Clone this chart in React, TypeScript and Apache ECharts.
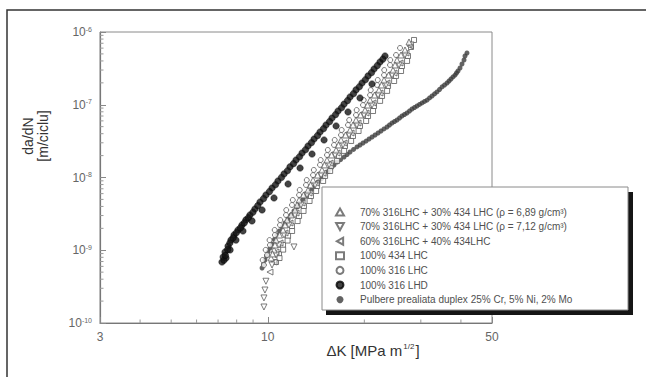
import React, { useEffect, useRef } from "react";
import * as echarts from "echarts";

const FONT = "Liberation Sans, Arial, sans-serif";

const seriesNames = [
  "70% 316LHC + 30% 434 LHC (ρ = 6,89 g/cm³)",
  "70% 316LHC + 30% 434 LHC (ρ = 7,12 g/cm³)",
  "60% 316LHC + 40% 434LHC",
  "100% 434 LHC",
  "100% 316 LHC",
  "100% 316 LHD",
  "Pulbere prealiata duplex 25% Cr, 5% Ni, 2% Mo",
];

// [ΔK (MPa m^1/2), da/dN (m/ciclu)]
const dataA: [number, number][] = [
  [10.24, 7.83e-10], [10.46, 1.01e-9], [10.61, 1.38e-9], [11.16, 1.9e-9], [11.49, 2.61e-9],
  [12.16, 3.58e-9], [12.52, 4.91e-9], [13.35, 6.73e-9], [13.84, 9.24e-9], [14.76, 1.27e-8],
  [15.3, 1.74e-8], [16.33, 2.39e-8], [16.92, 3.28e-8], [18.05, 4.5e-8], [18.84, 6.17e-8],
  [20.1, 8.47e-8], [20.84, 1.16e-7], [22.22, 1.6e-7], [23.04, 2.19e-7], [24.57, 3.0e-7],
  [25.29, 4.12e-7], [26.78, 5.66e-7], [27.56, 7.29e-7],
  [10.35, 8.9e-10], [10.53, 1.18e-9], [10.88, 1.62e-9], [11.32, 2.23e-9], [11.82, 3.06e-9],
  [12.34, 4.19e-9], [12.93, 5.75e-9], [13.6, 7.89e-9], [14.3, 1.08e-8], [15.03, 1.49e-8],
  [15.81, 2.04e-8], [16.62, 2.8e-8], [17.47, 3.84e-8], [18.44, 5.27e-8], [19.46, 7.23e-8],
  [20.47, 9.91e-8], [21.52, 1.36e-7], [22.63, 1.87e-7], [23.8, 2.56e-7], [24.93, 3.52e-7],
  [26.02, 4.83e-7],
];
const dataB: [number, number][] = [
  [9.73, 1.66e-10], [9.73, 2.21e-10], [9.8, 2.84e-10], [9.87, 3.75e-10], [12.07, 1.11e-9],
  [10.31, 6.27e-10], [10.61, 8.6e-10], [10.84, 1.18e-9], [11.24, 1.62e-9], [11.65, 2.22e-9],
  [12.16, 3.05e-9], [12.7, 4.19e-9], [13.25, 5.75e-9], [14.04, 7.89e-9], [14.66, 1.08e-8],
  [15.52, 1.49e-8], [16.21, 2.04e-8], [17.16, 2.8e-8], [17.92, 3.84e-8], [18.97, 5.27e-8],
  [19.95, 7.23e-8], [21.13, 9.91e-8], [22.07, 1.36e-7], [23.37, 1.87e-7], [24.4, 2.56e-7],
  [25.66, 3.52e-7], [26.78, 4.83e-7], [27.96, 6.63e-7],
];
const dataC: [number, number][] = [
  [10.16, 5.02e-10], [10.46, 6.89e-10], [10.61, 9.46e-10], [10.92, 1.26e-9], [11.32, 1.73e-9],
  [11.73, 2.37e-9], [12.25, 3.25e-9], [12.79, 4.46e-9], [13.45, 6.12e-9], [14.14, 8.41e-9],
  [14.87, 1.15e-8], [15.64, 1.58e-8], [16.44, 2.17e-8], [17.29, 2.98e-8], [18.18, 4.09e-8],
  [19.11, 5.61e-8], [20.24, 7.7e-8], [21.29, 1.06e-7], [22.38, 1.45e-7], [23.53, 1.99e-7],
  [24.75, 2.73e-7], [25.84, 3.75e-7], [26.97, 5.14e-7], [27.76, 6.42e-7],
];
const dataD: [number, number][] = [
  [10.61, 6.89e-10], [10.84, 8.88e-10], [11.16, 1.18e-9], [11.57, 1.57e-9], [11.9, 2.15e-9],
  [12.52, 2.96e-9], [12.97, 4.06e-9], [13.64, 5.57e-9], [14.25, 7.64e-9], [15.09, 1.05e-8],
  [15.75, 1.44e-8], [16.68, 1.98e-8], [17.41, 2.71e-8], [18.44, 3.72e-8], [19.39, 5.11e-8],
  [20.54, 7.0e-8], [21.44, 9.61e-8], [22.71, 1.32e-7], [23.71, 1.81e-7], [25.11, 2.49e-7],
  [26.21, 3.41e-7], [27.36, 4.68e-7], [27.96, 6.22e-7], [28.57, 7.77e-7],
  [10.88, 7.82e-10], [11.17, 1.02e-9], [11.53, 1.36e-9], [11.91, 1.84e-9], [12.39, 2.52e-9],
  [12.93, 3.47e-9], [13.5, 4.76e-9], [14.15, 6.52e-9], [14.88, 8.96e-9], [15.65, 1.23e-8],
  [16.45, 1.69e-8], [17.3, 2.32e-8], [18.19, 3.18e-8], [19.19, 4.36e-8], [20.26, 5.98e-8],
  [21.29, 8.2e-8], [22.4, 1.13e-7], [23.55, 1.55e-7], [24.77, 2.12e-7], [26.03, 2.91e-7],
  [27.18, 4.0e-7],
];
const dataE: [number, number][] = [
  [9.73, 6.27e-10], [9.95, 8.6e-10], [10.16, 1.18e-9], [10.53, 1.62e-9], [10.92, 2.22e-9],
  [11.4, 3.05e-9], [11.9, 4.19e-9], [12.52, 5.75e-9], [13.16, 7.89e-9], [13.84, 1.08e-8],
  [14.55, 1.49e-8], [15.3, 2.04e-8], [16.09, 2.8e-8], [16.92, 3.84e-8], [17.79, 5.27e-8],
  [18.84, 7.23e-8], [19.81, 9.91e-8], [20.84, 1.36e-7], [21.91, 1.87e-7], [23.04, 2.56e-7],
  [24.05, 3.52e-7], [25.11, 4.83e-7], [25.84, 6.03e-7],
  [9.64, 7.34e-10], [9.85, 1.01e-9], [10.13, 1.38e-9], [10.51, 1.9e-9], [10.94, 2.6e-9],
  [11.42, 3.57e-9], [11.97, 4.91e-9], [12.58, 6.74e-9], [13.23, 9.23e-9], [13.92, 1.27e-8],
  [14.62, 1.74e-8], [15.39, 2.39e-8], [16.17, 3.28e-8], [17.0, 4.5e-8], [17.94, 6.17e-8],
  [18.93, 8.46e-8], [19.91, 1.16e-7], [20.94, 1.59e-7], [22.02, 2.19e-7], [23.07, 3.0e-7],
  [24.09, 4.12e-7],
];
const dataF: [number, number][] = [
  [7.2, 6.89e-10], [7.26, 8.08e-10], [7.36, 9.46e-10], [7.52, 1.14e-9], [7.68, 1.38e-9],
  [7.85, 1.62e-9], [8.08, 1.9e-9], [8.31, 2.22e-9], [8.55, 2.61e-9], [8.8, 3.05e-9],
  [9.12, 3.69e-9], [9.46, 4.61e-9], [9.87, 5.75e-9], [10.31, 7.17e-9], [10.76, 8.95e-9],
  [11.24, 1.12e-8], [11.73, 1.4e-8], [12.25, 1.74e-8], [12.79, 2.17e-8], [13.35, 2.71e-8],
  [13.94, 3.38e-8], [14.55, 4.22e-8], [15.19, 5.27e-8], [15.86, 6.57e-8], [16.56, 8.21e-8],
  [17.29, 1.02e-7], [18.05, 1.28e-7], [18.84, 1.6e-7], [19.67, 1.99e-7], [20.54, 2.49e-7],
  [21.44, 3.1e-7], [22.38, 3.87e-7], [23.2, 4.68e-7],
  [7.41, 7.83e-10], [7.63, 1.01e-9], [7.96, 1.38e-9], [8.37, 1.84e-9], [8.93, 2.53e-9],
  [9.6, 3.58e-9], [10.46, 5.23e-9], [11.57, 8.14e-9], [12.61, 1.35e-8], [13.74, 2.1e-8],
  [14.98, 3.28e-8], [16.33, 5.11e-8], [17.79, 7.95e-8], [19.39, 1.24e-7], [21.13, 1.93e-7],
  [7.3, 7.3e-10], [7.38, 8.5e-10], [7.5, 1.02e-9], [7.62, 1.26e-9], [7.8, 1.48e-9],
  [7.98, 1.74e-9], [8.22, 2.03e-9], [8.45, 2.38e-9], [8.7, 2.8e-9], [8.99, 3.33e-9],
  [9.31, 4.1e-9], [9.7, 5.12e-9], [10.12, 6.4e-9], [10.57, 7.96e-9], [11.03, 1.0e-8],
  [11.52, 1.24e-8], [12.03, 1.55e-8], [12.56, 1.93e-8], [13.11, 2.41e-8], [13.68, 3.01e-8],
  [14.29, 3.76e-8], [14.92, 4.69e-8], [15.58, 5.86e-8], [16.27, 7.32e-8], [16.98, 9.1e-8],
  [17.73, 1.14e-7], [18.5, 1.42e-7], [19.3, 1.77e-7], [20.15, 2.21e-7], [21.05, 2.76e-7],
  [21.95, 3.45e-7], [22.85, 4.24e-7],
];
const dataG: [number, number][] = [
  [9.6, 5.7e-10], [9.8, 7.35e-10], [10.02, 9.46e-10], [10.31, 1.22e-9], [10.68, 1.62e-9],
  [11.08, 2.08e-9], [11.57, 2.69e-9], [12.07, 3.47e-9], [12.61, 4.46e-9], [13.16, 5.57e-9],
  [13.74, 6.95e-9], [14.35, 8.68e-9], [15.09, 1.08e-8], [15.75, 1.35e-8], [16.44, 1.63e-8],
  [17.29, 1.91e-8], [18.05, 2.24e-8], [18.97, 2.63e-8], [19.81, 2.98e-8], [20.69, 3.38e-8],
  [21.6, 3.84e-8], [22.54, 4.36e-8], [23.53, 4.95e-8], [24.4, 5.61e-8], [25.29, 6.17e-8],
  [26.21, 7.0e-8], [27.16, 7.7e-8], [28.16, 8.74e-8], [29.19, 9.61e-8], [30.26, 1.06e-7],
  [31.37, 1.16e-7], [32.51, 1.32e-7], [33.69, 1.5e-7], [34.93, 1.76e-7], [36.21, 1.99e-7],
  [37.25, 2.26e-7], [38.34, 2.56e-7], [39.17, 2.91e-7], [39.74, 3.2e-7], [40.31, 3.63e-7],
  [40.9, 4.12e-7], [41.19, 4.68e-7], [41.78, 5.14e-7],
  [9.7, 6.47e-10], [9.91, 8.34e-10], [10.16, 1.07e-9], [10.49, 1.41e-9], [10.88, 1.84e-9],
  [11.32, 2.37e-9], [11.82, 3.06e-9], [12.34, 3.93e-9], [12.88, 4.98e-9], [13.45, 6.22e-9],
  [14.04, 7.77e-9], [14.72, 9.68e-9], [15.42, 1.21e-8], [16.09, 1.48e-8], [16.86, 1.76e-8],
  [17.67, 2.07e-8], [18.51, 2.43e-8], [19.39, 2.8e-8], [20.25, 3.17e-8], [21.14, 3.6e-8],
  [22.07, 4.09e-8], [23.03, 4.65e-8], [23.96, 5.27e-8], [24.84, 5.88e-8], [25.75, 6.57e-8],
  [26.68, 7.34e-8], [27.66, 8.2e-8], [28.67, 9.16e-8], [29.72, 1.01e-7], [30.81, 1.11e-7],
  [31.94, 1.24e-7], [33.1, 1.41e-7], [34.31, 1.62e-7], [35.57, 1.87e-7], [36.73, 2.12e-7],
  [37.79, 2.41e-7], [38.75, 2.73e-7],
];

const xMin = 3;
const xMax = 50;
const yMin = 1e-10;
const yMax = 1e-6;
const xMinorTicks = [4, 5, 6, 7, 8, 9, 20, 30, 40];
const yMinorTicks = [
  2e-10, 3e-10, 4e-10, 5e-10, 6e-10, 7e-10, 8e-10, 9e-10,
  2e-9, 3e-9, 4e-9, 5e-9, 6e-9, 7e-9, 8e-9, 9e-9,
  2e-8, 3e-8, 4e-8, 5e-8, 6e-8, 7e-8, 8e-8, 9e-8,
  2e-7, 3e-7, 4e-7, 5e-7, 6e-7, 7e-7, 8e-7, 9e-7,
];

const hollow = { color: "#ffffff", borderColor: "#5a5a5a", borderWidth: 1 };
const TRI_DOWN = "path://M0,0 L10,0 L5,9 Z";
const TRI_LEFT = "path://M9,0 L9,10 L0,5 Z";

export default function App() {
  const ref = useRef<HTMLDivElement>(null);
  useEffect(() => {
    if (!ref.current) return;
    const chart = echarts.init(ref.current, undefined, { renderer: "svg" });
    const scatter = (name: string, data: [number, number][], extra: any) => ({
      type: "scatter",
      name,
      data,
      symbolSize: 6,
      ...extra,
    });
    const option: any = {
      animation: false,
      backgroundColor: "#ffffff",
      textStyle: { fontFamily: FONT },
      grid: {
        left: 100,
        right: 154,
        top: 32,
        bottom: 54,
        show: true,
        borderColor: "#8a8a8a",
        borderWidth: 1,
      },
      xAxis: {
        type: "log",
        logBase: 10,
        min: xMin,
        max: xMax,
        axisLine: { lineStyle: { color: "#777777", width: 1.2 } },
        axisTick: { inside: true, length: 6, lineStyle: { color: "#888888" } },
        axisLabel: {
          color: "#666666",
          fontSize: 12,
          margin: 8,
          showMinLabel: true,
          showMaxLabel: true,
          formatter: (v: number) => String(Math.round(v)),
        },
        splitLine: { show: false },
      },
      yAxis: {
        type: "log",
        logBase: 10,
        min: yMin,
        max: yMax,
        axisLine: { lineStyle: { color: "#777777", width: 1.2 } },
        axisTick: { inside: true, length: 6, lineStyle: { color: "#888888" } },
        axisLabel: {
          margin: 8,
          formatter: (v: number) => `{b|10}{s|${Math.round(Math.log10(v))}}`,
          rich: {
            b: { fontSize: 12, color: "#666666", fontFamily: FONT },
            s: { fontSize: 7, color: "#666666", verticalAlign: "top", fontFamily: FONT, padding: [0, 0, 6, 0] },
          },
        },
        splitLine: { show: false },
      },
      legend: {
        data: seriesNames,
        orient: "vertical",
        left: 330,
        top: 202,
        itemWidth: 8,
        itemHeight: 7,
        itemGap: 4.6,
        selectedMode: false,
        z: 110,
        textStyle: {
          fontSize: 10,
          color: "#505050",
          lineHeight: 10,
          fontFamily: FONT,
          padding: [0, 0, 0, 11],
        },
      },
      graphic: [
        {
          type: "rect",
          z: 1,
          shape: { x: 7, y: 10, width: 660, height: 400 },
          style: { fill: "none", stroke: "#333333", lineWidth: 1.5 },
          silent: true,
        },
        {
          type: "rect",
          z: 100,
          shape: { x: 326, y: 192, width: 307, height: 123 },
          style: { fill: "#151515" },
          silent: true,
        },
        {
          type: "rect",
          z: 101,
          shape: { x: 322, y: 187, width: 306, height: 123 },
          style: { fill: "#ffffff", stroke: "#8a8a8a", lineWidth: 1 },
          silent: true,
        },
        {
          type: "text",
          z: 50,
          x: 35,
          y: 136,
          rotation: Math.PI / 2,
          style: {
            text: "da/dN\n[m/ciclu]",
            fontSize: 14,
            lineHeight: 15,
            fill: "#333333",
            align: "center",
            verticalAlign: "middle",
            fontFamily: FONT,
          },
          silent: true,
        },
        {
          type: "text",
          z: 50,
          x: 373,
          y: 350,
          style: {
            text: "{a|ΔK [MPa m}{s|1/2}{a|]}",
            align: "center",
            verticalAlign: "middle",
            rich: {
              a: { fontSize: 15, fill: "#333333", fontFamily: FONT },
              s: { fontSize: 8, fill: "#333333", fontFamily: FONT, verticalAlign: "top", padding: [0, 1, 8, 1] },
            },
          },
          silent: true,
        },
      ],
      series: [
        scatter(seriesNames[6], dataG, { symbol: "circle", symbolSize: 5, itemStyle: { color: "#3c3c3c" } }),
        scatter(seriesNames[4], dataE, { symbol: "circle", symbolSize: 5, itemStyle: hollow }),
        scatter(seriesNames[3], dataD, { symbol: "rect", symbolSize: 5, itemStyle: hollow }),
        scatter(seriesNames[2], dataC, { symbol: TRI_LEFT, symbolSize: 6, itemStyle: hollow }),
        scatter(seriesNames[1], dataB, { symbol: TRI_DOWN, symbolSize: 6, itemStyle: hollow }),
        scatter(seriesNames[0], dataA, { symbol: "triangle", symbolSize: 6, itemStyle: hollow }),
        scatter(seriesNames[5], dataF, { symbol: "circle", symbolSize: 6.5, itemStyle: { color: "#141414", borderColor: "#000", borderWidth: 0.5 } }),
        {
          type: "custom",
          name: "xMinor",
          silent: true,
          z: 3,
          data: xMinorTicks.map((v) => [v, yMin]),
          renderItem: (_p: any, api: any) => {
            const pt = api.coord([api.value(0), api.value(1)]);
            return {
              type: "line",
              shape: { x1: pt[0], y1: pt[1], x2: pt[0], y2: pt[1] - 3.5 },
              style: { stroke: "#999999", lineWidth: 1 },
            };
          },
        },
        {
          type: "custom",
          name: "yMinor",
          silent: true,
          z: 3,
          data: yMinorTicks.map((v) => [xMin, v]),
          renderItem: (_p: any, api: any) => {
            const pt = api.coord([api.value(0), api.value(1)]);
            return {
              type: "line",
              shape: { x1: pt[0], y1: pt[1], x2: pt[0] + 3.5, y2: pt[1] },
              style: { stroke: "#999999", lineWidth: 1 },
            };
          },
        },
      ],
    };
    chart.setOption(option);
    return () => chart.dispose();
  }, []);
  return (
    <div
      ref={ref}
      style={{ position: "fixed", left: 0, top: 0, width: 646, height: 377, background: "#fff" }}
    />
  );
}
